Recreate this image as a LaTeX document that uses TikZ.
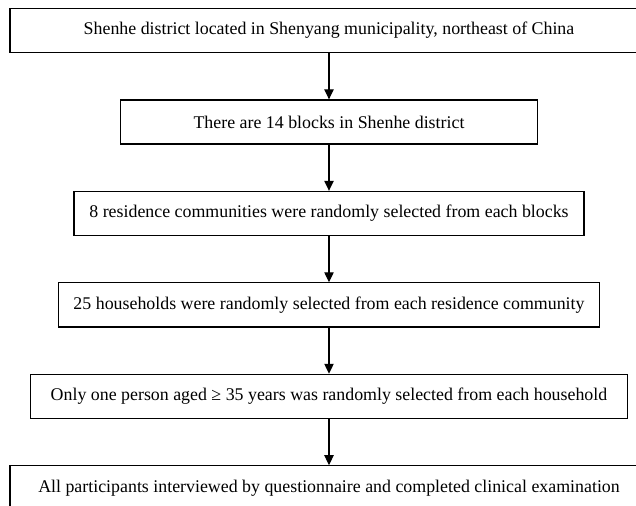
\documentclass[tikz,border=0pt]{standalone}
\usepackage{fontspec}
\setmainfont{Liberation Serif}
\usetikzlibrary{arrows.meta}
\begin{document}
\begin{tikzpicture}[x=0.75pt,y=-0.75pt]

			\useasboundingbox (0,0) rectangle (636,506);

			\tikzstyle{stage}=[fill=white,draw=black,line width=0.9pt,
				minimum height=33pt,inner sep=0pt,
				font=\fontsize{13.4}{16}\selectfont,
				node distance=68.6pt]
			\tikzstyle{flow}=[line width=0.9pt,
				-{Triangle[width=7pt,length=7.5pt]}]

			\node[stage,minimum width=478.5pt] at (329,30.5) (district)
				{Shenhe district located in Shenyang municipality, northeast of China};
			\node[stage,minimum width=312.75pt,below of=district] (blocks)
				{There are 14 blocks in Shenhe district};
			\node[stage,minimum width=382.5pt,below of=blocks] (communities)
				{8 residence communities were randomly selected from each blocks};
			\node[stage,minimum width=405.75pt,below of=communities] (households)
				{25 households were randomly selected from each residence community};
			\node[stage,minimum width=447.75pt,below of=households] (persons)
				{Only one person aged ≥ 35 years was randomly selected from each household};
			\node[stage,minimum width=478.5pt,below of=persons] (participants)
				{All participants interviewed by questionnaire and completed clinical examination};

			\draw[flow] (district) -- (blocks);
			\draw[flow] (blocks) -- (communities);
			\draw[flow] (communities) -- (households);
			\draw[flow] (households) -- (persons);
			\draw[flow] (persons) -- (participants);

		\end{tikzpicture}
\end{document}
